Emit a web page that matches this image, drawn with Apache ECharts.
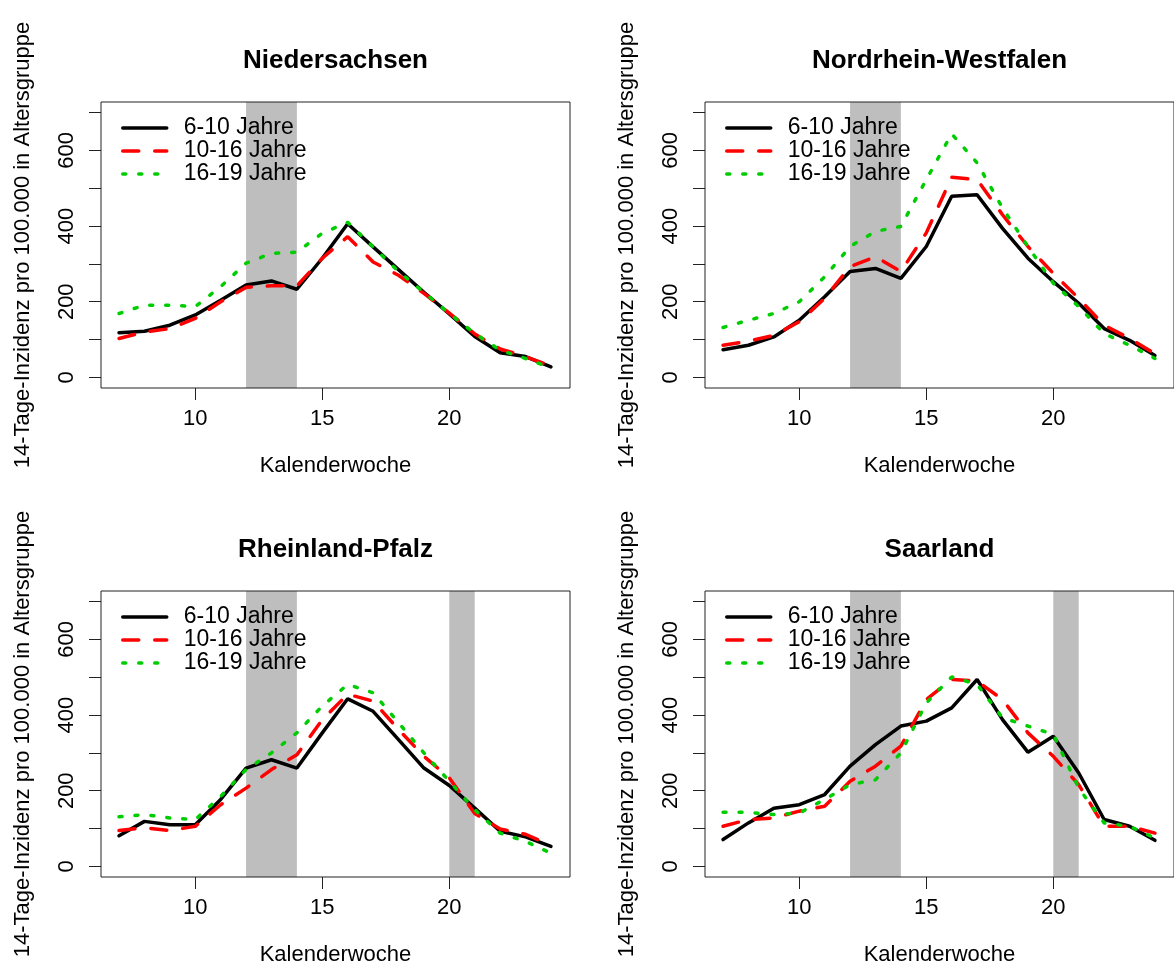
<!DOCTYPE html>
<html>
<head>
<meta charset="utf-8">
<script src="https://cdn.jsdelivr.net/npm/echarts@6/dist/echarts.min.js"></script>
<style>
  html, body { margin: 0; padding: 0; background: #fff; }
  #chart { width: 1174px; height: 972px; }
</style>
</head>
<body>
<div id="chart"></div>
<script>
// Kalenderwochen
const weeks = [7, 8, 9, 10, 11, 12, 13, 14, 15, 16, 17, 18, 19, 20, 21, 22, 23, 24];
const ageGroups = ["6-10 Jahre", "10-16 Jahre", "16-19 Jahre"];
const states = ["Niedersachsen", "Nordrhein-Westfalen", "Rheinland-Pfalz", "Saarland"];

// Niedersachsen
const nds_6_10  = [118, 122, 138, 165, 204, 244, 255, 233, 315, 406, 345, 285, 225, 168, 108, 65, 55, 28];
const nds_10_16 = [103, 120, 129, 156, 200, 238, 242, 242, 315, 372, 305, 270, 222, 170, 115, 75, 55, 30];
const nds_16_19 = [169, 191, 191, 187, 240, 302, 328, 331, 381, 410, 345, 280, 225, 169, 116, 72, 50, 25];
// Nordrhein-Westfalen
const nrw_6_10  = [73, 85, 107, 151, 213, 280, 288, 262, 346, 479, 483, 394, 315, 253, 196, 129, 98, 58];
const nrw_10_16 = [85, 96, 111, 147, 209, 293, 319, 280, 382, 529, 523, 430, 346, 275, 209, 138, 103, 63];
const nrw_16_19 = [132, 151, 169, 200, 266, 346, 386, 399, 523, 644, 567, 448, 346, 249, 187, 116, 85, 50];
// Rheinland-Pfalz
const rp_6_10  = [81, 119, 110, 110, 177, 260, 282, 260, 353, 443, 410, 335, 260, 214, 154, 93, 78, 53];
const rp_10_16 = [95, 102, 95, 106, 163, 207, 256, 295, 388, 455, 437, 362, 291, 234, 140, 99, 85, 55];
const rp_16_19 = [131, 137, 128, 124, 185, 256, 300, 353, 424, 481, 459, 380, 300, 225, 150, 88, 66, 35];
// Saarland
const sl_6_10  = [71, 115, 154, 163, 190, 265, 322, 371, 384, 419, 494, 388, 302, 344, 247, 124, 106, 69];
const sl_10_16 = [106, 124, 128, 146, 159, 225, 265, 318, 441, 494, 490, 441, 353, 291, 216, 106, 106, 88];
const sl_16_19 = [143, 143, 137, 141, 177, 216, 229, 300, 432, 501, 481, 393, 371, 349, 207, 115, 106, 75];

const stateData = [
  [nds_6_10, nds_10_16, nds_16_19],
  [nrw_6_10, nrw_10_16, nrw_16_19],
  [rp_6_10, rp_10_16, rp_16_19],
  [sl_6_10, sl_10_16, sl_16_19],
];

// Schulschließungen / Ferien (grau)
const shadeRanges = [
  [[12, 14]],
  [[12, 14]],
  [[12, 14], [20, 21]],
  [[12, 14], [20, 21]],
];

const xTicks = [10, 15, 20];
const yTicks = [0, 100, 200, 300, 400, 500, 600, 700];
const yLabels = [0, 200, 400, 600];

const FONT = "Liberation Sans";
const panels = [
  { left: 101, top: 102 },
  { left: 705, top: 102 },
  { left: 101, top: 591 },
  { left: 705, top: 591 },
];
const PW = 469, PH = 286;

const lineStyles = [
  { color: "#000000", width: 3.5, type: "solid", cap: "round" },
  { color: "#FF0000", width: 3.5, type: [16, 16], cap: "round" },
  { color: "#00CD00", width: 3.5, type: [3, 13], cap: "round" },
];

const chart = echarts.init(document.getElementById("chart"));

const grids = [], xAxes = [], yAxes = [], series = [], legends = [], graphics = [];

panels.forEach((p, k) => {
  grids.push({
    left: p.left, top: p.top, width: PW, height: PH,
    show: true, borderColor: "#222", borderWidth: 1,
    backgroundColor: "transparent", z: 10,
  });
  xAxes.push({
    type: "value", gridIndex: k, min: 6.29, max: 24.75,
    splitLine: { show: false },
    axisLine: { show: false, onZero: false },
    axisTick: { show: true, length: 12, customValues: xTicks, lineStyle: { color: "#222" } },
    axisLabel: { customValues: xTicks, fontSize: 22, color: "#000", margin: 20, fontFamily: FONT },
    name: "Kalenderwoche", nameLocation: "middle", nameGap: 67,
    nameTextStyle: { fontSize: 22, color: "#000", fontFamily: FONT },
  });
  yAxes.push({
    type: "value", gridIndex: k, min: -28, max: 728,
    splitLine: { show: false },
    axisLine: { show: false, onZero: false },
    axisTick: { show: true, length: 12, customValues: yTicks, lineStyle: { color: "#222" } },
    axisLabel: { customValues: yLabels, rotate: 90, fontSize: 22, color: "#000", margin: 23, fontFamily: FONT },
    name: "14-Tage-Inzidenz pro 100.000 in Altersgruppe",
    nameLocation: "middle", nameGap: 67, nameRotate: 90,
    nameTextStyle: { fontSize: 22, color: "#000", fontFamily: FONT },
  });

  // graue Bereiche
  series.push({
    type: "line", xAxisIndex: k, yAxisIndex: k, data: [], z: 1,
    silent: true,
    markArea: {
      silent: true,
      itemStyle: { color: "#BEBEBE", opacity: 1 },
      data: shadeRanges[k].map(([a, b]) => [{ xAxis: a }, { xAxis: b }]),
    },
  });

  stateData[k].forEach((vals, i) => {
    series.push({
      name: ageGroups[i], type: "line", xAxisIndex: k, yAxisIndex: k,
      data: weeks.map((w, j) => [w, vals[j]]),
      symbol: "none", z: 3 + i,
      lineStyle: lineStyles[i],
      itemStyle: { color: lineStyles[i].color },
      emphasis: { disabled: true },
    });
  });

  legends.push({
    orient: "vertical", left: p.left + 20, top: p.top + 14.5,
    padding: 0, itemGap: 0, itemWidth: 44, itemHeight: 23,
    selectedMode: false, data: ageGroups,
    itemStyle: { opacity: 0 },
    lineStyle: { width: 3.5 },
    textStyle: { fontSize: 23, color: "#000", fontFamily: FONT, padding: [0, 0, 0, 12] },
  });

  graphics.push({
    type: "text", x: p.left + PW / 2, y: p.top - 41,
    style: {
      text: states[k], align: "center", verticalAlign: "middle",
      font: 'bold 26px "Liberation Sans"', fill: "#000",
    },
  });
});

chart.setOption({
  animation: false,
  backgroundColor: "#fff",
  textStyle: { fontFamily: FONT },
  grid: grids,
  xAxis: xAxes,
  yAxis: yAxes,
  legend: legends,
  series: series,
  graphic: graphics,
});
</script>
</body>
</html>
